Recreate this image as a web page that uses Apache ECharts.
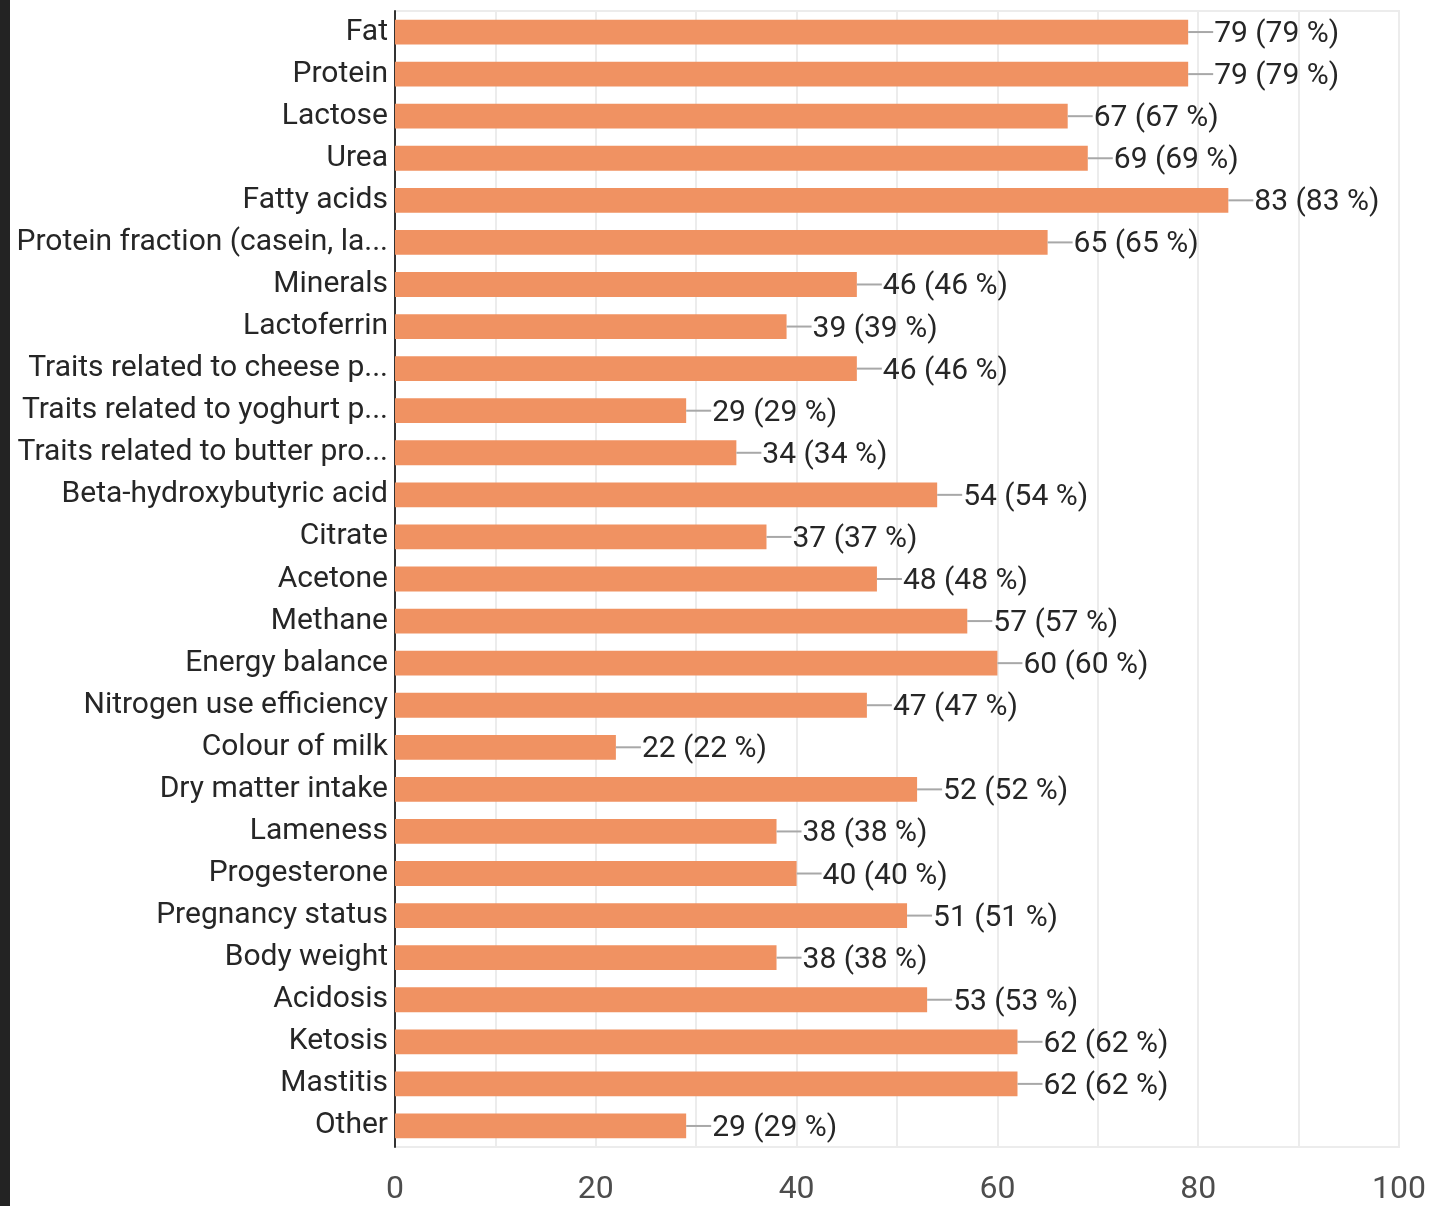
<!DOCTYPE html>
<html>
<head>
<meta charset="utf-8">
<script src="https://cdn.jsdelivr.net/npm/echarts@6/dist/echarts.min.js"></script>
<style>
  html, body { margin: 0; padding: 0; background: #fff; }
  #chart { width: 1429px; height: 1206px; }
</style>
</head>
<body>
<div id="chart"></div>
<script>
// Milk traits of interest: number of responses per trait
const categories = [
  'Fat', 'Protein', 'Lactose', 'Urea', 'Fatty acids',
  'Protein fraction (casein, la...', 'Minerals', 'Lactoferrin',
  'Traits related to cheese p...', 'Traits related to yoghurt p...',
  'Traits related to butter pro...', 'Beta-hydroxybutyric acid', 'Citrate',
  'Acetone', 'Methane', 'Energy balance', 'Nitrogen use efficiency',
  'Colour of milk', 'Dry matter intake', 'Lameness', 'Progesterone',
  'Pregnancy status', 'Body weight', 'Acidosis', 'Ketosis', 'Mastitis', 'Other'
];
const counts = [
  79, 79, 67, 69, 83,
  65, 46, 39,
  46, 29,
  34, 54, 37,
  48, 57, 60, 47,
  22, 52, 38, 40,
  51, 38, 53, 62, 62, 29
];
const percents = [
  79, 79, 67, 69, 83,
  65, 46, 39,
  46, 29,
  34, 54, 37,
  48, 57, 60, 47,
  22, 52, 38, 40,
  51, 38, 53, 62, 62, 29
];
const xTickLabels = ['0', '20', '40', '60', '80', '100'];

const FONT = 'Roboto, "Noto Sans", sans-serif';
const chart = echarts.init(document.getElementById('chart'), null, { renderer: 'canvas' });

chart.setOption({
  animation: false,
  backgroundColor: '#ffffff',
  graphic: [{
    type: 'rect',
    left: 0, top: 0,
    shape: { width: 10, height: 1206 },
    style: { fill: '#232323' },
    silent: true
  }],
  grid: {
    left: 395, right: 29, top: 11, bottom: 55,
    show: true,
    borderColor: '#ececec',
    borderWidth: 2,
    containLabel: false
  },
  xAxis: {
    type: 'value',
    min: 0, max: 100, interval: 10,
    axisLine: { show: false },
    axisTick: { show: false },
    splitLine: { show: true, lineStyle: { color: '#ececec', width: 2 } },
    axisLabel: {
      margin: 27,
      color: '#4d4d4d',
      fontSize: 32,
      fontFamily: FONT,
      formatter: v => (xTickLabels.indexOf(String(v)) >= 0 ? String(v) : '')
    }
  },
  yAxis: {
    type: 'category',
    inverse: true,
    data: categories,
    axisLine: { show: true, lineStyle: { color: '#333', width: 2 } },
    axisTick: { show: false },
    axisLabel: {
      margin: 7,
      color: '#262626',
      fontSize: 30,
      fontFamily: FONT,
      padding: [6, 0, 0, 0]
    }
  },
  series: [{
    type: 'bar',
    data: counts,
    barCategoryGap: '41%',
    itemStyle: { color: '#f09262' },
    label: {
      show: true,
      position: 'right',
      distance: 0,
      formatter: p => '{l|}{t|' + counts[p.dataIndex] + ' (' + percents[p.dataIndex] + ' %)}',
      rich: {
        l: { width: 25, height: 2, backgroundColor: '#a8a8a8' },
        t: { fontSize: 30, color: '#262626', fontFamily: FONT, padding: [5, 0, 0, 1] }
      }
    }
  }]
});
</script>
</body>
</html>
